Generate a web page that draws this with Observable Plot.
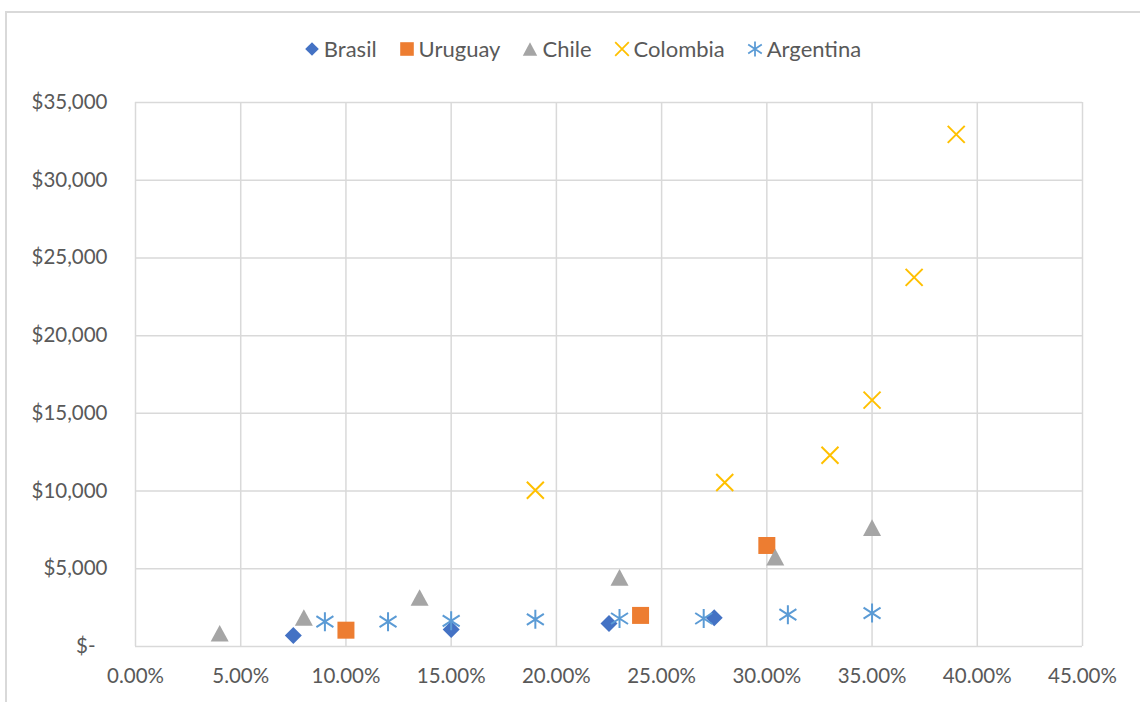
<!DOCTYPE html>
<html>
<head>
<meta charset="utf-8">
<script src="https://cdn.jsdelivr.net/npm/d3@7"></script>
<script src="https://cdn.jsdelivr.net/npm/@observablehq/plot@0.6"></script>
<style>
  html, body { margin: 0; padding: 0; background: #fff; overflow: hidden; }
  #wrap { position: relative; width: 1140px; height: 702px; overflow: hidden; font-family: Lato, "Open Sans", sans-serif; }
  #frame { position: absolute; left: 5px; top: 11px; width: 1200px; height: 800px; border: 2px solid #d9d9d9; box-sizing: border-box; }
  #chart { position: absolute; left: 0; top: 0; }
  #legend { position: absolute; left: 12px; top: 35px; width: 1140px; display: flex; justify-content: center; gap: 0; font-size: 22px; color: #595959; }
  .item { display: flex; align-items: center; margin: 0 10.5px; }
  .item svg { margin-right: 3px; }
</style>
</head>
<body>
<div id="wrap">
  <div id="frame"></div>
  <div id="chart"></div>
  <div id="legend"></div>
</div>
<script>
const seriesNames = ["Brasil", "Uruguay", "Chile", "Colombia", "Argentina"];
const seriesColors = ["#4472C4", "#ED7D31", "#A5A5A5", "#FFC000", "#5B9BD5"];

const brasilX = [0.075, 0.15, 0.225, 0.275];
const brasilY = [700, 1090, 1480, 1850];
const uruguayX = [0.10, 0.24, 0.30];
const uruguayY = [1050, 2000, 6500];
const chileX = [0.04, 0.08, 0.135, 0.23, 0.304, 0.35];
const chileY = [850, 1870, 3150, 4450, 5750, 7650];
const colombiaX = [0.19, 0.28, 0.33, 0.35, 0.37, 0.39];
const colombiaY = [10050, 10550, 12300, 15850, 23750, 32950];
const argentinaX = [0.09, 0.12, 0.15, 0.19, 0.23, 0.27, 0.31, 0.35];
const argentinaY = [1600, 1600, 1650, 1750, 1800, 1800, 2050, 2150];

const xTicks = [0, 0.05, 0.10, 0.15, 0.20, 0.25, 0.30, 0.35, 0.40, 0.45];
const yTicks = [0, 5000, 10000, 15000, 20000, 25000, 30000, 35000];

// custom symbols (Excel-like markers)
const symDiamond = { draw(c) { const r = 8.5; c.moveTo(0, -r); c.lineTo(r, 0); c.lineTo(0, r); c.lineTo(-r, 0); c.closePath(); } };
const symSquare = { draw(c) { const r = 8.5; c.moveTo(-r, -r); c.lineTo(r, -r); c.lineTo(r, r); c.lineTo(-r, r); c.closePath(); } };
const symTriangle = { draw(c) { const w = 9, h = 8.3; c.moveTo(0, -h); c.lineTo(w, h); c.lineTo(-w, h); c.closePath(); } };
const symTimes = { draw(c) { const r = 8.5; c.moveTo(-r, -r); c.lineTo(r, r); c.moveTo(-r, r); c.lineTo(r, -r); } };
const symStar = { draw(c) { const r = 9.5, dx = 8.5, dy = 5.5; c.moveTo(0, -r); c.lineTo(0, r); c.moveTo(-dx, -dy); c.lineTo(dx, dy); c.moveTo(-dx, dy); c.lineTo(dx, -dy); } };

const symbols = [symDiamond, symSquare, symTriangle, symTimes, symStar];
const filled = [true, true, true, false, false];
const xs = [brasilX, uruguayX, chileX, colombiaX, argentinaX];
const ys = [brasilY, uruguayY, chileY, colombiaY, argentinaY];

const data = seriesNames.map((name, i) => xs[i].map((x, j) => ({ name, x, y: ys[i][j] })));

const fmtY = d => d === 0 ? "$-\u2007" : "$" + d3.format(",")(d);

const marks = [
  Plot.gridX(xTicks, { stroke: "#d9d9d9", strokeOpacity: 1, strokeWidth: 1.5 }),
  Plot.gridY(yTicks, { stroke: "#d9d9d9", strokeOpacity: 1, strokeWidth: 1.5 }),
  Plot.axisX(xTicks, { tickFormat: d3.format(".2%"), tickSize: 0, tickPadding: 22, fontSize: 20.5, fill: "#595959", label: null }),
  Plot.axisY(yTicks, { tickFormat: fmtY, tickSize: 0, tickPadding: 28, fontSize: 20.5, fill: "#595959", label: null })
];
data.forEach((d, i) => {
  if (filled[i]) {
    marks.push(Plot.dot(d, { x: "x", y: "y", symbol: symbols[i], fill: seriesColors[i], stroke: "none", r: 5 }));
  } else {
    marks.push(Plot.dot(d, { x: "x", y: "y", symbol: symbols[i], stroke: seriesColors[i], fill: "none", strokeWidth: 2, r: 5 }));
  }
});

const chart = Plot.plot({
  width: 1140,
  height: 702,
  marginTop: 102,
  marginBottom: 56,
  marginLeft: 135,
  marginRight: 58,
  x: { domain: [0, 0.45], label: null },
  y: { domain: [0, 35000], label: null },
  style: { fontFamily: "Lato, 'Open Sans', sans-serif", background: "transparent" },
  marks
});
document.getElementById("chart").appendChild(chart);

// legend
const legend = document.getElementById("legend");
seriesNames.forEach((name, i) => {
  const item = document.createElement("div");
  item.className = "item";
  const svg = d3.create("svg").attr("width", 18).attr("height", 18).attr("viewBox", "-9 -9 18 18");
  const p = d3.path();
  const scale = 0.8;
  symbols[i].draw(p);
  const path = svg.append("path").attr("d", p.toString()).attr("transform", `scale(${scale})`);
  if (filled[i]) path.attr("fill", seriesColors[i]);
  else path.attr("fill", "none").attr("stroke", seriesColors[i]).attr("stroke-width", 2.2);
  item.appendChild(svg.node());
  const span = document.createElement("span");
  span.textContent = name;
  item.appendChild(span);
  legend.appendChild(item);
});
</script>
</body>
</html>
